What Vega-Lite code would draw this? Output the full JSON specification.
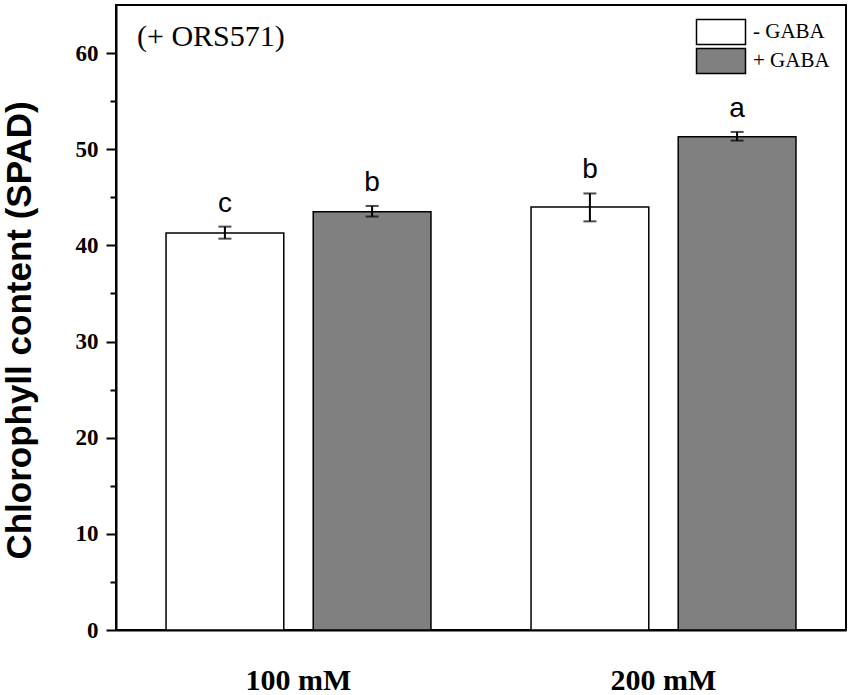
{
  "$schema": "https://vega.github.io/schema/vega-lite/v6.json",
  "autosize": {"type": "none"},
  "padding": {"left": 116, "top": 5, "right": 5, "bottom": 65},
  "width": 730,
  "height": 625,
  "background": "white",
  "title": {
    "text": "(+ ORS571)",
    "anchor": "start",
    "frame": "group",
    "orient": "top",
    "baseline": "alphabetic",
    "offset": 0,
    "dx": 21,
    "dy": 71,
    "font": "Liberation Serif",
    "fontSize": 30,
    "fontWeight": "normal",
    "color": "black"
  },
  "config": {
    "view": {"stroke": "black", "strokeWidth": 2},
    "axis": {"grid": false, "domainColor": "black", "domainWidth": 2, "tickColor": "black", "tickWidth": 2, "labelColor": "black"}
  },
  "data": {
    "values": [
      {"conc": "100 mM", "gaba": "- GABA", "mean": 41.3, "lower": 40.7, "upper": 41.95, "letter": "c"},
      {"conc": "100 mM", "gaba": "+ GABA", "mean": 43.5, "lower": 43.0, "upper": 44.1, "letter": "b"},
      {"conc": "200 mM", "gaba": "- GABA", "mean": 44.0, "lower": 42.5, "upper": 45.4, "letter": "b"},
      {"conc": "200 mM", "gaba": "+ GABA", "mean": 51.3, "lower": 50.9, "upper": 51.8, "letter": "a"}
    ]
  },
  "encoding": {
    "x": {
      "field": "conc",
      "type": "nominal",
      "scale": {"paddingInner": 0, "paddingOuter": 0},
      "axis": {
        "title": null,
        "labelAngle": 0,
        "ticks": false,
        "labelPadding": 35,
        "labelFont": "Liberation Serif",
        "labelFontWeight": "bold",
        "labelFontSize": 30
      }
    },
    "xOffset": {
      "field": "gaba",
      "type": "nominal",
      "sort": ["- GABA", "+ GABA"],
      "scale": {"paddingInner": 0.2, "paddingOuter": 0.34}
    }
  },
  "layer": [
    {
      "mark": {"type": "bar", "stroke": "black", "strokeWidth": 1.5},
      "encoding": {
        "y": {
          "field": "mean",
          "type": "quantitative",
          "scale": {"domain": [0, 65], "nice": false, "zero": true},
          "axis": {
            "title": "Chlorophyll content (SPAD)",
            "titleFont": "Liberation Sans",
            "titleFontWeight": "bold",
            "titleFontSize": 35,
            "titleColor": "black",
            "titleAngle": 270,
            "titleBaseline": "alphabetic",
            "titleAlign": "center",
            "titleX": -86,
            "titleY": 325,
            "values": [0, 5, 10, 15, 20, 25, 30, 35, 40, 45, 50, 55, 60],
            "labelExpr": "datum.value % 10 === 0 ? datum.label : ''",
            "tickSize": {"condition": {"test": "datum.value % 10 === 0", "value": 10}, "value": 6},
            "labelPadding": 8,
            "labelFont": "Liberation Serif",
            "labelFontWeight": "bold",
            "labelFontSize": 23
          }
        },
        "fill": {
          "field": "gaba",
          "type": "nominal",
          "sort": ["- GABA", "+ GABA"],
          "scale": {"domain": ["- GABA", "+ GABA"], "range": ["#ffffff", "#808080"]},
          "legend": {
            "title": null,
            "orient": "none",
            "legendX": 592,
            "legendY": 14,
            "padding": 0,
            "symbolType": "M-2,-1.02H2V1.02H-2Z",
            "symbolSize": 600,
            "symbolStrokeColor": "black",
            "symbolStrokeWidth": 1.5,
            "symbolOpacity": 1,
            "rowPadding": -5,
            "labelOffset": 19,
            "labelFont": "Liberation Serif",
            "labelFontSize": 21,
            "labelColor": "black"
          }
        }
      }
    },
    {
      "mark": {"type": "rule", "color": "black", "strokeWidth": 2},
      "encoding": {
        "y": {"field": "lower", "type": "quantitative"},
        "y2": {"field": "upper"}
      }
    },
    {
      "mark": {"type": "tick", "color": "black", "size": 13, "thickness": 2, "orient": "horizontal"},
      "encoding": {
        "y": {"field": "lower", "type": "quantitative"}
      }
    },
    {
      "mark": {"type": "tick", "color": "black", "size": 13, "thickness": 2, "orient": "horizontal"},
      "encoding": {
        "y": {"field": "upper", "type": "quantitative"}
      }
    },
    {
      "mark": {"type": "text", "font": "Liberation Sans", "fontSize": 28, "color": "black", "baseline": "alphabetic", "dy": -15},
      "encoding": {
        "y": {"field": "upper", "type": "quantitative"},
        "text": {"field": "letter"}
      }
    }
  ]
}
